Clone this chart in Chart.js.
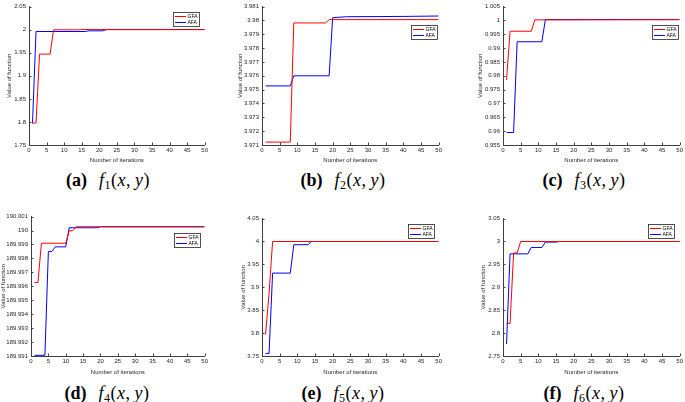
<!DOCTYPE html>
<html>
<head>
<meta charset="utf-8">
<script src="https://cdn.jsdelivr.net/npm/chart.js@4.4.0/dist/chart.umd.min.js"></script>
<style>
  body { margin: 0; background: #fff; width: 685px; height: 402px; position: relative; overflow: hidden; }
  canvas { position: absolute; }
  .cap { position: absolute; width: 200px; text-align: center; white-space: nowrap;
         font-family: 'Liberation Serif', 'DejaVu Serif', serif; font-size: 18px; line-height: 20px; color: #000; }
  .cap .m { margin-left: 12px; letter-spacing: 0.5px; }
  .cap sub { font-size: 12px; vertical-align: -3px; line-height: 0; }
</style>
</head>
<body>
<script>
// series names
const seriesNames = ["GFA", "AFA"];
const iterTicks = [0, 5, 10, 15, 20, 25, 30, 35, 40, 45, 50];

// f1
const f1GfaX = [1, 2, 3, 6, 7, 14, 15, 50];
const f1GfaY = [1.7975, 1.7975, 1.947, 1.947, 1.9997, 1.9997, 2.0002, 2.0002];
const f1AfaX = [1, 2, 16, 17, 21, 22, 50];
const f1AfaY = [1.797, 1.996, 1.996, 1.9975, 1.9975, 2.0002, 2.0002];
const f1Ticks = [1.75, 1.8, 1.85, 1.9, 1.95, 2, 2.05];

// f2
const f2GfaX = [1, 8, 9, 18, 19, 50];
const f2GfaY = [3.97121, 3.97121, 3.97982, 3.97982, 3.98006, 3.98006];
const f2AfaX = [1, 8, 9, 19, 20, 24, 40, 50];
const f2AfaY = [3.97527, 3.97527, 3.9760, 3.9760, 3.98020, 3.98027, 3.98029, 3.98032];
const f2Ticks = [3.971, 3.972, 3.973, 3.974, 3.975, 3.976, 3.977, 3.978, 3.979, 3.98, 3.981];

// f3
const f3GfaX = [1, 2, 8, 9, 50];
const f3GfaY = [0.9785, 0.9961, 0.9961, 1.0002, 1.0003];
const f3AfaX = [1, 3, 4, 11, 12, 50];
const f3AfaY = [0.9595, 0.9595, 0.9923, 0.9923, 1.0003, 1.0003];
const f3Ticks = [0.955, 0.96, 0.965, 0.97, 0.975, 0.98, 0.985, 0.99, 0.995, 1, 1.005];

// f4
const f4GfaX = [1, 2, 3, 10, 11, 12, 13, 50];
const f4GfaY = [189.99627, 189.99627, 189.99909, 189.99909, 189.99998, 189.99998, 190.00027, 190.00027];
const f4AfaX = [1, 4, 5, 6, 7, 10, 11, 19, 20, 50];
const f4AfaY = [189.99105, 189.99105, 189.99849, 189.99849, 189.99883, 189.99883, 190.0002, 190.0002, 190.00027, 190.00027];
const f4Ticks = [189.991, 189.992, 189.993, 189.994, 189.995, 189.996, 189.997, 189.998, 189.999, 190, 190.001];

// f5
const f5GfaX = [1, 2, 3, 50];
const f5GfaY = [3.797, 3.887, 4.0, 4.0];
const f5AfaX = [1, 2, 3, 8, 9, 13, 14, 50];
const f5AfaY = [3.7557, 3.7557, 3.931, 3.931, 3.993, 3.993, 4.0, 4.0];
const f5Ticks = [3.75, 3.8, 3.85, 3.9, 3.95, 4, 4.05];

// f6
const f6GfaX = [1, 2, 3, 4, 5, 50];
const f6GfaY = [2.821, 2.821, 2.975, 2.975, 3.0, 3.0];
const f6AfaX = [1, 2, 7, 8, 11, 12, 15, 16, 50];
const f6AfaY = [2.776, 2.973, 2.973, 2.987, 2.987, 2.9987, 2.9987, 3.0, 3.0];
const f6Ticks = [2.75, 2.8, 2.85, 2.9, 2.95, 3, 3.05];

const panels = [
  { tag: "a", sub: "1", gx: f1GfaX, gy: f1GfaY, ax: f1AfaX, ay: f1AfaY, ticks: f1Ticks },
  { tag: "b", sub: "2", gx: f2GfaX, gy: f2GfaY, ax: f2AfaX, ay: f2AfaY, ticks: f2Ticks },
  { tag: "c", sub: "3", gx: f3GfaX, gy: f3GfaY, ax: f3AfaX, ay: f3AfaY, ticks: f3Ticks },
  { tag: "d", sub: "4", gx: f4GfaX, gy: f4GfaY, ax: f4AfaX, ay: f4AfaY, ticks: f4Ticks },
  { tag: "e", sub: "5", gx: f5GfaX, gy: f5GfaY, ax: f5AfaX, ay: f5AfaY, ticks: f5Ticks },
  { tag: "f", sub: "6", gx: f6GfaX, gy: f6GfaY, ax: f6AfaX, ay: f6AfaY, ticks: f6Ticks },
];

// plot area boxes on the page [left, top, right, bottom], y-title centre, x-title centre,
// legend offset [right gap, top gap], caption centre
const layout = [
  { area: [29, 4, 208, 145],   yt: 10,  xt: 160, leg: [5, 5],  cap: [108, 180] },
  { area: [262, 4, 442, 145],  yt: 241, xt: 160, leg: [1, 18], cap: [343, 180] },
  { area: [503, 4, 683, 145],  yt: 481, xt: 160, leg: [1, 18], cap: [584, 180] },
  { area: [31, 214, 208, 356], yt: 3,   xt: 372, leg: [4, 16], cap: [107, 393] },
  { area: [262, 216, 442, 356], yt: 244, xt: 372, leg: [4, 5], cap: [343, 393] },
  { area: [503, 216, 683, 356], yt: 484, xt: 372, leg: [5, 5], cap: [584, 393] },
];

Chart.defaults.font.family = "'Liberation Sans', Arial, sans-serif";
Chart.defaults.font.size = 6;
Chart.defaults.color = "#262626";

const axisColor = "#404040";

// MATLAB style ticks pointing into the plot
const inTicks = {
  id: "inTicks",
  afterDatasetsDraw(chart) {
    const { ctx, chartArea: a, scales: { x, y } } = chart;
    ctx.save();
    ctx.strokeStyle = axisColor;
    ctx.lineWidth = 1;
    ctx.beginPath();
    y.ticks.forEach(t => {
      const p = Math.round(y.getPixelForValue(t.value)) + 0.5;
      ctx.moveTo(a.left, p); ctx.lineTo(a.left + 2.5, p);
    });
    x.ticks.forEach(t => {
      const p = Math.round(x.getPixelForValue(t.value)) + 0.5;
      ctx.moveTo(p, a.bottom); ctx.lineTo(p, a.bottom - 2.5);
    });
    ctx.stroke();
    ctx.restore();
  }
};

const boxLegend = {
  id: "boxLegend",
  afterDraw(chart, args, opts) {
    const { ctx, chartArea } = chart;
    const w = 27, h = 15;
    const x = Math.round(chartArea.right - opts.right - w);
    const y = Math.round(chartArea.top + opts.top);
    ctx.save();
    ctx.fillStyle = "#fff";
    ctx.fillRect(x, y, w, h);
    ctx.strokeStyle = "#262626";
    ctx.lineWidth = 0.8;
    ctx.strokeRect(x + 0.5, y + 0.5, w - 1, h - 1);
    chart.data.datasets.forEach((ds, i) => {
      const ly = y + 4 + i * 6;
      ctx.fillStyle = ds.borderColor;
      ctx.fillRect(x + 2, ly, 11, 1);
      ctx.fillStyle = "#000";
      ctx.font = "5px 'Liberation Sans', Arial, sans-serif";
      ctx.textBaseline = "middle";
      ctx.fillText(ds.label, x + 14.5, ly + 0.8);
    });
    ctx.restore();
  }
};

function pts(xs, ys) {
  return xs.map((v, i) => ({ x: v, y: ys[i] }));
}

panels.forEach((p, k) => {
  const L = layout[k];
  const [al, at, ar, ab] = L.area;
  const cl = Math.max(0, Math.round(L.yt - 3.6));
  const ct = at - 4;
  const yw = al - cl;
  const xh = Math.round(L.xt + 3.6 - ab);
  const cv = document.createElement("canvas");
  cv.width = ar - cl + 2;
  cv.height = ab - ct + xh;
  cv.style.left = cl + "px";
  cv.style.top = ct + "px";
  document.body.appendChild(cv);

  new Chart(cv, {
    type: "line",
    data: {
      datasets: [
        { label: seriesNames[0], data: pts(p.gx, p.gy), borderColor: "#ff0000" },
        { label: seriesNames[1], data: pts(p.ax, p.ay), borderColor: "#0000ff" },
      ],
    },
    options: {
      responsive: false,
      animation: false,
      events: [],
      layout: { padding: { top: 4, right: 2, left: 0, bottom: 0 } },
      elements: {
        line: { borderWidth: 1, tension: 0 },
        point: { radius: 0 },
      },
      plugins: {
        legend: { display: false },
        tooltip: { enabled: false },
        boxLegend: { right: L.leg[0], top: L.leg[1] },
      },
      scales: {
        x: {
          type: "linear",
          min: 0, max: 50,
          grid: { display: false, drawTicks: false },
          border: { color: axisColor, width: 1 },
          ticks: { padding: 2, maxRotation: 0, autoSkip: false, color: "#262626" },
          afterBuildTicks: s => { s.ticks = iterTicks.map(v => ({ value: v })); },
          afterFit: s => { s.height = xh; },
          title: { display: true, text: "Number of iterations", padding: 0, color: "#262626" },
        },
        y: {
          type: "linear",
          min: p.ticks[0], max: p.ticks[p.ticks.length - 1],
          grid: { display: false, drawTicks: false },
          border: { color: axisColor, width: 1 },
          ticks: {
            padding: 3, autoSkip: false, color: "#262626",
            callback: v => String(parseFloat(Number(v).toFixed(6))),
          },
          afterBuildTicks: s => { s.ticks = p.ticks.map(v => ({ value: v })); },
          afterFit: s => { s.width = yw; },
          title: { display: true, text: "Value of function", padding: 0, color: "#262626" },
        },
      },
    },
    plugins: [inTicks, boxLegend],
  });

  const cap = document.createElement("div");
  cap.className = "cap";
  cap.style.left = (L.cap[0] - 100) + "px";
  cap.style.top = (L.cap[1] - 10) + "px";
  cap.innerHTML = "<b>(" + p.tag + ")</b><span class=\"m\"><i>f</i><sub>" + p.sub +
    "</sub>(<i>x</i>,&thinsp;<i>y</i>)</span>";
  document.body.appendChild(cap);
});
</script>
</body>
</html>
